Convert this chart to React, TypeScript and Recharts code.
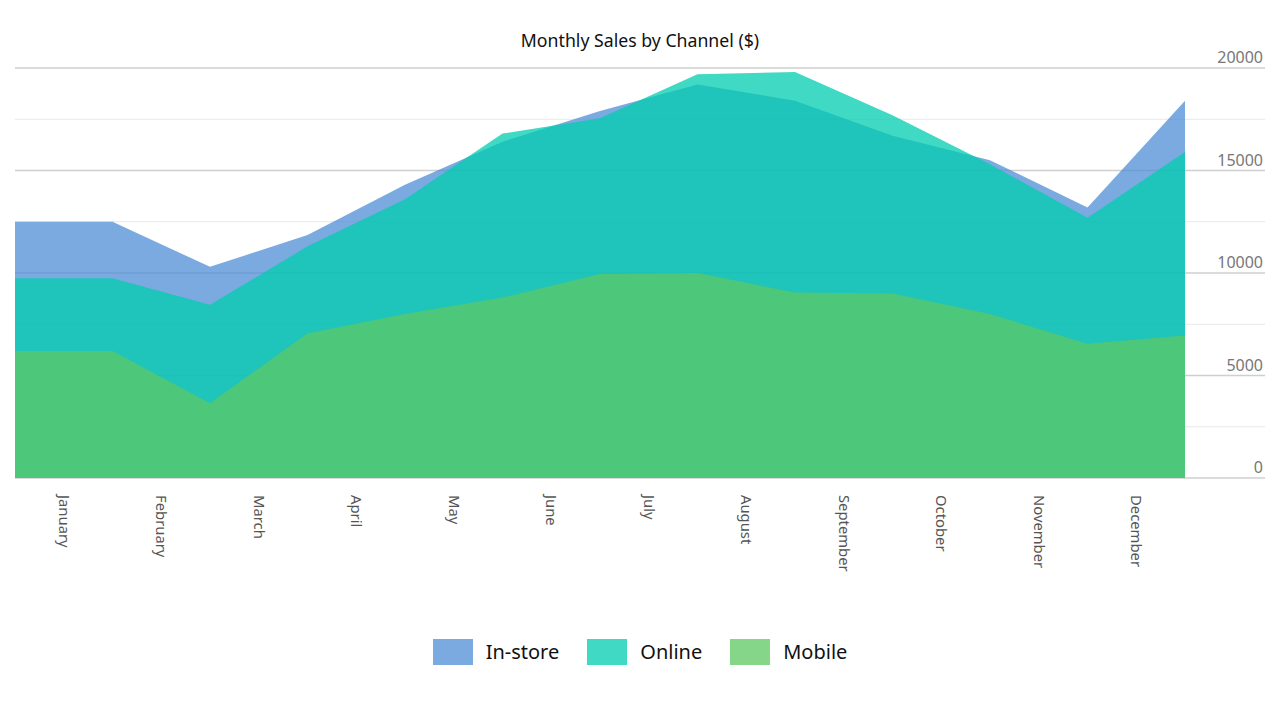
import React from 'react';
import { AreaChart, Area, XAxis, YAxis, CartesianGrid } from 'recharts';

const months = ['January', 'February', 'March', 'April', 'May', 'June', 'July', 'August', 'September', 'October', 'November', 'December'];
const inStore = [12500, 10300, 11850, 14300, 16400, 17900, 19200, 18400, 16700, 15500, 13200, 18400];
const online = [9750, 8450, 11300, 13600, 16800, 17550, 19700, 19800, 17700, 15300, 12700, 15900];
const mobile = [6200, 3650, 7050, 8000, 8800, 9950, 10000, 9050, 9000, 8000, 6550, 6950];
const yTicks = [0, 2500, 5000, 7500, 10000, 12500, 15000, 17500, 20000];
const majorTicks = [0, 5000, 10000, 15000, 20000];
const minorTicks = [2500, 7500, 12500, 17500];

const series = [
  { key: 'inStore', name: 'In-store', color: '#4F8ED6' },
  { key: 'online', name: 'Online', color: '#00CCAF' },
  { key: 'mobile', name: 'Mobile', color: '#5EC863' },
];

// lead-in row repeats the first month, then each month sits at the right edge of its band
const data = [
  { x: 0, inStore: inStore[0], online: online[0], mobile: mobile[0] },
  ...months.map((m, i) => ({ x: i + 1, month: m, inStore: inStore[i], online: online[i], mobile: mobile[i] })),
];
const xTicks = months.map((_, i) => i + 0.5);

const FONT = '"Noto Sans", "Open Sans", sans-serif';

const XTick = (props: any) => {
  const { x, y, payload } = props;
  const label = months[Math.floor(payload.value)];
  return (
    <g transform={`translate(${x},${y + 17})`}>
      <text transform="rotate(90)" x={0} y={0} dy="0.35em" textAnchor="start" fill="#555" fontSize={14.8} fontFamily={FONT}>
        {label}
      </text>
    </g>
  );
};

const YTick = (props: any) => {
  const { x, y, payload } = props;
  const major = payload.value % 5000 === 0;
  return (
    <g>
      <line x1={x} x2={x + 80} y1={y} y2={y} stroke={major ? '#cfcfcf' : '#e8e8e8'} strokeWidth={major ? 1.5 : 1} />
      {major && (
        <text x={x + 78} y={y - 5} textAnchor="end" fill="#777" fontSize={16} fontFamily={FONT}>
          {payload.value}
        </text>
      )}
    </g>
  );
};

export default function App() {
  return (
    <div style={{ position: 'absolute', left: 0, top: 0, width: 1280, height: 720, background: '#fff', fontFamily: FONT }}>
      <div style={{ position: 'absolute', top: 28, left: 0, width: 1280, textAlign: 'center', fontSize: 17.7, color: '#111' }}>
        Monthly Sales by Channel ($)
      </div>
      <AreaChart width={1280} height={720} data={data} margin={{ top: 68, right: 0, left: 15, bottom: 0 }}>
        <CartesianGrid vertical={false} horizontalValues={minorTicks} stroke="#e8e8e8" strokeWidth={1} />
        <CartesianGrid vertical={false} horizontalValues={majorTicks} stroke="#cfcfcf" strokeWidth={1.5} />
        <XAxis type="number" dataKey="x" domain={[0, 12]} ticks={xTicks} interval={0} axisLine={false} tickLine={false} tickSize={0} tickMargin={0} height={242} tick={<XTick />} />
        <YAxis orientation="right" type="number" domain={[0, 20000]} ticks={yTicks} interval={0} axisLine={false} tickLine={false} tickSize={0} tickMargin={0} width={95} tick={<YTick />} />
        {series.map((s) => (
          <Area key={s.key} type="linear" dataKey={s.key} name={s.name} stroke="none" fill={s.color} fillOpacity={0.75} isAnimationActive={false} dot={false} activeDot={false} />
        ))}
      </AreaChart>
      <div style={{ position: 'absolute', top: 639, left: 0, width: 1280, display: 'flex', justifyContent: 'center', alignItems: 'center' }}>
        {series.map((s, i) => (
          <div key={s.key} style={{ display: 'flex', alignItems: 'center', marginLeft: i === 0 ? 0 : 28 }}>
            <div style={{ width: 40, height: 26, background: s.color, opacity: 0.75 }} />
            <span style={{ marginLeft: 13, fontSize: 20, color: '#111', lineHeight: '26px' }}>{s.name}</span>
          </div>
        ))}
      </div>
    </div>
  );
}
